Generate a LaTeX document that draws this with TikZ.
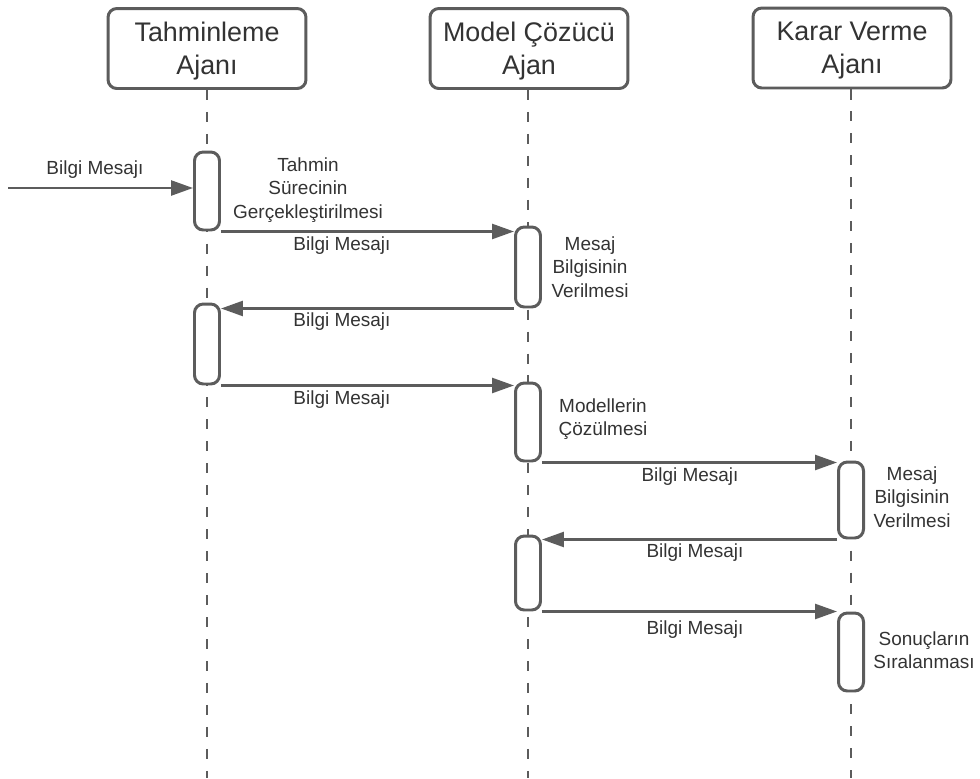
\documentclass[tikz,border=0pt]{standalone}
\usepackage{fontspec}
\setmainfont{Liberation Sans}
\usetikzlibrary{arrows.meta,calc}
\definecolor{ink}{HTML}{333333}
\definecolor{edge}{HTML}{5C5C5C}
\tikzset{
  lane/.style={draw=edge, line width=1.7pt, rounded corners=5pt, fill=white,
    minimum width=3.96cm, minimum height=1.6cm, align=center, text=ink,
    text depth=0pt, font=\fontsize{15.3}{19.0}\selectfont},
  act/.style={draw=edge, line width=1.7pt, rounded corners=5pt, fill=white,
    minimum width=0.5cm, inner sep=0pt},
  life/.style={draw=edge, line width=1.1pt, dash pattern=on 5.7pt off 6.8pt},
  msg/.style={draw=edge, line width=1.5pt, -{Triangle[length=12.5pt, width=8.5pt]}},
  note/.style={text=ink, align=center, font=\fontsize{10.8}{13.3}\selectfont}
}

\begin{document}
\begin{tikzpicture}[x=0.02cm, y=-0.02cm]
  \useasboundingbox (0,0) rectangle (980,778);
  % agents
  \node[lane] (tah) at (207,48.5) {Tahminleme\\Ajanı};
  \node[lane] (mod) at (529,48.5) {Model Çözücü\\Ajan};
  \node[lane] (kar) at (852,48) {Karar Verme\\Ajanı};
  % lifelines
  \coordinate (tahend) at (207,778);
  \coordinate (modend) at (528,778);
  \coordinate (karend) at (851,778);
  \draw[life] (tah.south -| tahend) -- (tahend);
  \draw[life] (mod.south -| modend) -- (modend);
  \draw[life] (kar.south -| karend) -- (karend);
  % activations
  \node[act, minimum height=1.56cm] (a1) at (207,191) {};
  \node[act, minimum height=1.60cm] (b1) at (528,267) {};
  \node[act, minimum height=1.60cm] (a2) at (207,344) {};
  \node[act, minimum height=1.56cm] (b2) at (528,422) {};
  \node[act, minimum height=1.52cm] (c1) at (851,500) {};
  \node[act, minimum height=1.48cm] (b3) at (528,573) {};
  \node[act, minimum height=1.56cm] (c2) at (851,652) {};
  % messages
  \coordinate (src) at (8,188);
  \draw[msg] (src) -- (src -| a1.west);
  \draw[msg] (a1.south east) -- (a1.south east -| b1.west);
  \draw[msg] (b1.south west) -- (b1.south west -| a2.east);
  \draw[msg] (a2.south east) -- (a2.south east -| b2.west);
  \draw[msg] (b2.south east) -- (b2.south east -| c1.west);
  \draw[msg] (c1.south west) -- (c1.south west -| b3.east);
  \draw[msg] (b3.south east) -- (b3.south east -| c2.west);
  % message labels
  \node[note] (m0) at (95,170) {Bilgi Mesajı};
  \node[note] (m1) at (342,246) {Bilgi Mesajı};
  \node[note] (m2) at (342,322) {Bilgi Mesajı};
  \node[note] (m3) at (342,400) {Bilgi Mesajı};
  \node[note] (m4) at (690,477) {Bilgi Mesajı};
  \node[note] (m5) at (695,553) {Bilgi Mesajı};
  \node[note] (m6) at (695,630) {Bilgi Mesajı};
  % activation notes
  \node[note] (n1) at (308,190) {Tahmin\\Sürecinin\\Gerçekleştirilmesi};
  \node[note] (n2) at (590,267) {Mesaj\\Bilgisinin\\Verilmesi};
  \node[note] (n3) at (603,419) {Modellerin\\Çözülmesi};
  \node[note] (n4) at (912,497) {Mesaj\\Bilgisinin\\Verilmesi};
  \node[note] (n5) at (924,650) {Sonuçların\\Sıralanması};
\end{tikzpicture}
\end{document}
